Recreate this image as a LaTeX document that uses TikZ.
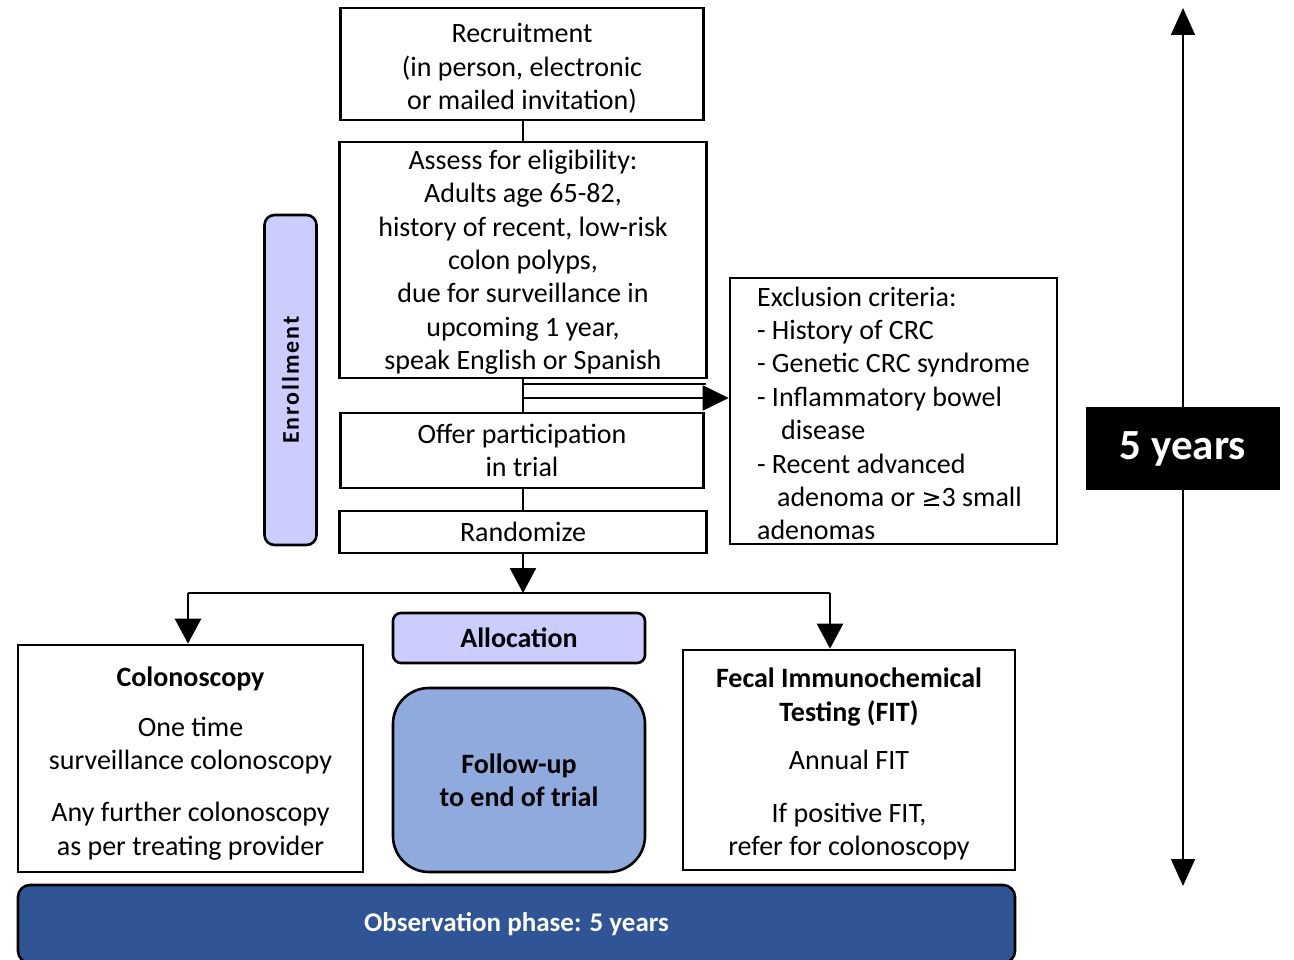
\documentclass[tikz,border=0pt]{standalone}
\usepackage{fontspec}
\setmainfont{Carlito}
\newfontfamily\symfont{DejaVu Sans}
\usetikzlibrary{arrows.meta}
\definecolor{lav}{HTML}{CCCCFF}
\definecolor{fup}{HTML}{8FAADC}
\definecolor{obs}{HTML}{2F5597}
\newcommand{\pushdown}[1]{\rule{0pt}{#1pt}}
\begin{document}
\begin{tikzpicture}[x=1pt,y=-1pt,
  box/.style={draw, line width=2.6pt, fill=white, inner sep=0pt, align=center, font=\fontsize{28}{33.4}\selectfont},
  conn/.style={line width=2.4pt},
  tip/.style={-{Triangle[length=25pt,width=26pt]}}
]
\useasboundingbox (0,0) rectangle (1294,960);

% main column
\node[box, minimum width=363, minimum height=112] (rec) at (522,64) {\pushdown{28}Recruitment\\(in person, electronic\\or mailed invitation)};
\node[box, minimum width=367, minimum height=236] (ass) at (523,260) {\pushdown{24}Assess for eligibility:\\Adults age 65-82,\\history of recent, low-risk\\colon polyps,\\due for surveillance in\\upcoming 1 year,\\speak English or Spanish};
\node[box, minimum width=363, minimum height=75] (off) at (522,450.5) {Offer participation\\in trial};
\node[box, minimum width=367, minimum height=42] (rnd) at (523,532) {Randomize};

\draw[conn] (rec.south -| 523,0) -- (523,142);
\draw[conn] (523,378) -- (523,413);
\draw[conn] (523,488) -- (523,511);

% exclusion
\node[box, align=left, minimum width=327, minimum height=266] (exc) at (893.5,411) {\pushdown{24}Exclusion criteria:\\- History of CRC\\- Genetic CRC syndrome\\- Inflammatory bowel\\\hspace*{24pt}disease\\- Recent advanced\\\hspace*{20pt}adenoma or {\fontsize{24}{30}\selectfont\symfont ≥}3 small\\adenomas};
\coordinate (j1) at (523,384);
\coordinate (j2) at (523,398);
\draw[line width=2pt] (j1) -- (706,384);
\draw[line width=2pt, -{Triangle[length=26pt,width=25pt]}] (j2) -- (j2 -| exc.west);

% enrollment
\node[draw, line width=2.6pt, fill=lav, rounded corners=10pt, minimum width=330, minimum height=52, rotate=90, font=\bfseries\fontsize{24}{28}\selectfont\addfontfeature{LetterSpace=8}] (enr) at (290.5,380) {Enrollment};

% split
\coordinate (sp) at (523,593);
\coordinate (cL) at (188,593);
\coordinate (cR) at (830,593);
\draw[conn, tip] (rnd.south) -- (sp);
\draw[conn] (cL) -- (cR);

% arms
\node[box, minimum width=345, minimum height=227] (col) at (190.5,758.5) {\pushdown{30}\textbf{Colonoscopy}\\[16pt]One time\\surveillance colonoscopy\\[19pt]Any further colonoscopy\\as per treating provider};
\node[box, minimum width=332, minimum height=220] (fit) at (849,760) {\pushdown{28}\textbf{Fecal Immunochemical}\\\textbf{Testing (FIT)}\\[15pt]Annual FIT\\[19pt]If positive FIT,\\refer for colonoscopy};
\draw[conn, tip] (cL) -- (cL |- col.north);
\draw[conn, tip] (cR) -- (cR |- fit.north);

\node[draw, line width=2.6pt, fill=lav, rounded corners=8pt, minimum width=252, minimum height=50, font=\bfseries\fontsize{28}{30}\selectfont] (all) at (519,638) {Allocation};
\node[draw, line width=2.6pt, fill=fup, rounded corners=36pt, minimum width=252, minimum height=184, align=center, font=\bfseries\fontsize{28}{33.4}\selectfont] (fol) at (519,780) {Follow-up\\to end of trial};

\node[draw, line width=2.6pt, fill=obs, rounded corners=12pt, minimum width=997, minimum height=78, text=white, font=\bfseries\fontsize{27}{30}\selectfont] (obsv) at (516.5,924) {Observation phase: 5 years};

% timeline
\coordinate (tT) at (1183,8);
\coordinate (tB) at (1183,886);
\draw[line width=1.6pt, {Triangle[length=27pt,width=24pt]}-{Triangle[length=27pt,width=24pt]}] (tT) -- (tB);
\node[fill=black, minimum width=194, minimum height=83, text=white, font=\bfseries\fontsize{43}{46}\selectfont] (yrs) at (1183,448.5) {5 years};
\end{tikzpicture}
\end{document}
